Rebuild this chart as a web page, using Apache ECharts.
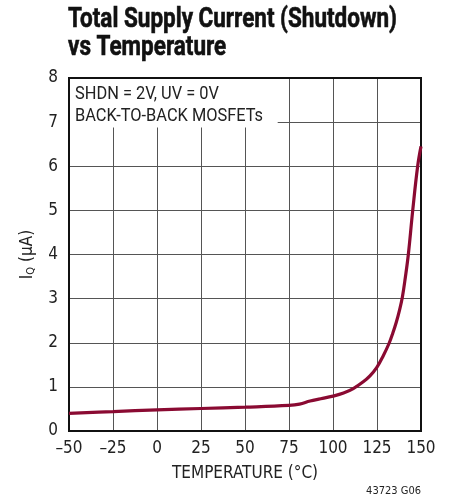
<!DOCTYPE html>
<html><head><meta charset="utf-8">
<script src="https://cdn.jsdelivr.net/npm/echarts@6/dist/echarts.min.js"></script>
<style>html,body{margin:0;padding:0;background:#fff}#c{width:453px;height:504px}</style>
</head><body><div id="c"></div>
<script>
const temperature = [-50, -25, 0, 25, 50, 75, 81, 87, 93, 100, 106, 111.5, 117, 121, 125, 128.5, 132, 134, 136, 137.8, 139.4, 141.1, 142.8, 145.3, 148.1, 150];
const supplyCurrent = [0.40, 0.44, 0.48, 0.51, 0.54, 0.58, 0.61, 0.68, 0.73, 0.79, 0.86, 0.96, 1.11, 1.25, 1.45, 1.70, 2.0, 2.22, 2.47, 2.74, 3.03, 3.48, 4.0, 5.0, 6.0, 6.45];
const xTicks = [-50, -25, 0, 25, 50, 75, 100, 125, 150];
const yTicks = [0, 1, 2, 3, 4, 5, 6, 7, 8];
const titleLines = ['Total Supply Current (Shutdown)', 'vs Temperature'];
const noteLines = ['SHDN = 2V, UV = 0V', 'BACK-TO-BACK MOSFETs'];

const FONT = '"DejaVu Sans Condensed", "Liberation Sans", sans-serif';
const ctx = document.createElement('canvas').getContext('2d');
function measure(txt, font) { ctx.font = font; return ctx.measureText(txt).width; }

const chart = echarts.init(document.getElementById('c'));
const data = temperature.map((t, i) => [t, supplyCurrent[i]]);
const option = {
  animation: false,
  backgroundColor: '#fff',
  grid: { left: 69, top: 78, right: 32, bottom: 73 },
  xAxis: {
    type: 'value', min: -50, max: 150, interval: 25,
    name: 'TEMPERATURE (°C)', nameLocation: 'middle', nameGap: 34,
    nameTextStyle: { fontFamily: FONT, fontSize: 17, color: '#222' },
    axisLine: { show: false }, axisTick: { show: false },
    axisLabel: { fontFamily: FONT, fontSize: 17, color: '#222', margin: 9,
      formatter: v => (v < 0 ? '\u2013' + Math.abs(v) : String(v)) },
    splitLine: { lineStyle: { color: '#555', width: 1 } }
  },
  yAxis: {
    type: 'value', min: 0, max: 8, interval: 1,
    name: '{a|I}{s|Q}{a| (µA)}', nameLocation: 'middle', nameGap: 32, nameRotate: 90,
    nameTextStyle: { rich: {
      a: { fontFamily: FONT, fontSize: 17, color: '#222' },
      s: { fontFamily: FONT, fontSize: 11, color: '#222', verticalAlign: 'bottom', padding: [8, 0, 0, 0] }
    } },
    axisLine: { show: false }, axisTick: { show: false },
    axisLabel: { fontFamily: FONT, fontSize: 17, color: '#222', margin: 11 },
    splitLine: { lineStyle: { color: '#555', width: 1 } }
  },
  series: [{
    type: 'line', data: data, smooth: 0.4, showSymbol: false, z: 30,
    lineStyle: { color: '#8a0a32', width: 3.2 }, clip: false
  }]
};
chart.setOption(option);

const p0 = chart.convertToPixel({ gridIndex: 0 }, [-50, 8]);
const p1 = chart.convertToPixel({ gridIndex: 0 }, [150, 0]);
const pBox = chart.convertToPixel({ gridIndex: 0 }, [68, 6.9]);

const titleFont = 'bold 28px Roboto';
const tScale = 329 / measure(titleLines[0], titleFont);
const noteFont = '18px Roboto';
const nScale = 188 / measure(noteLines[1], noteFont);

chart.setOption({
  graphic: [
    { type: 'rect', z: 10, shape: { x: p0[0] + 1, y: p0[1] + 1, width: pBox[0] - p0[0], height: pBox[1] - p0[1] },
      style: { fill: '#fff' } },
    { type: 'rect', z: 20, shape: { x: p0[0], y: p0[1], width: p1[0] - p0[0], height: p1[1] - p0[1] },
      style: { fill: 'none', stroke: '#111', lineWidth: 2 } },
    { type: 'text', z: 25, x: 68, y: 6, scaleX: tScale,
      style: { text: titleLines.join('\n'), font: titleFont, lineHeight: 28, fill: '#111', stroke: '#111', lineWidth: 0.6 } },
    { type: 'text', z: 25, x: p0[0] + 6, y: p0[1] + 5, scaleX: nScale,
      style: { text: noteLines.join('\n'), font: noteFont, lineHeight: 22, fill: '#222' } },
    { type: 'text', z: 25, right: 32, top: 486,
      style: { text: '43723 G06', font: '11px ' + FONT, fill: '#222' } }
  ]
});
</script></body></html>
